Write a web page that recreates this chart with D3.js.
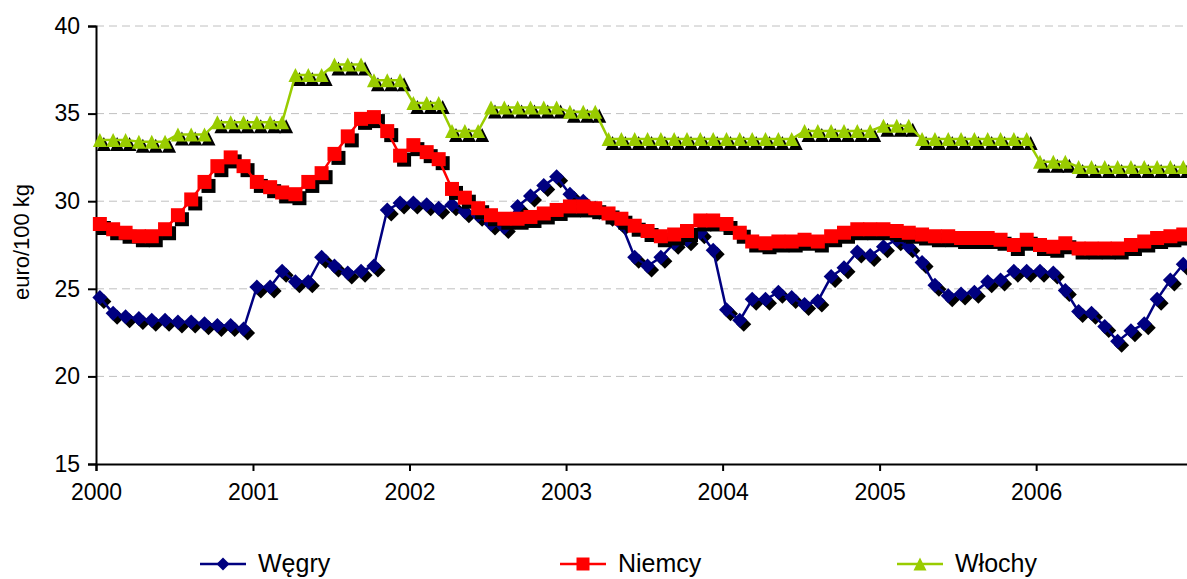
<!DOCTYPE html>
<html><head><meta charset="utf-8">
<script src="https://cdn.jsdelivr.net/npm/d3@7"></script>
<style>body{margin:0;background:#fff}svg{display:block}text{font-family:"Liberation Sans",Arial,sans-serif}</style>
</head><body>
<script>
const years = ["2000","2001","2002","2003","2004","2005","2006"];
const yTicks = [15,20,25,30,35,40];
const seriesNames = ["Węgry","Niemcy","Włochy"];
const wegry = [
 24.5,23.6,23.4,23.3,23.2,23.2,23.1,23.1,23.0,22.9,22.9,22.7,
 25.1,25.1,26.0,25.4,25.4,26.8,26.3,25.9,26.0,26.3,29.5,29.9,
 29.9,29.8,29.6,29.8,29.4,29.2,28.7,28.5,29.7,30.3,30.9,31.4,
 30.4,30.0,29.6,29.2,28.7,26.8,26.3,26.8,27.6,27.8,28.2,27.2,
 23.8,23.2,24.4,24.4,24.8,24.5,24.1,24.3,25.7,26.2,27.1,26.9,
 27.4,27.8,27.4,26.5,25.2,24.6,24.7,24.8,25.4,25.5,26.0,26.0,
 26.0,25.9,24.9,23.7,23.6,22.85,22.0,22.6,23.0,24.4,25.5,26.4];
const niemcy = [
 28.7,28.4,28.2,28.0,28.0,28.4,29.2,30.1,31.1,32.0,32.5,32.0,
 31.1,30.8,30.5,30.4,31.1,31.6,32.7,33.7,34.7,34.8,34.0,32.6,
 33.2,32.8,32.4,30.7,30.2,29.6,29.2,29.0,29.0,29.1,29.3,29.5,
 29.7,29.7,29.6,29.3,29.0,28.6,28.3,28.0,28.1,28.3,28.9,28.9,
 28.7,28.2,27.7,27.6,27.7,27.7,27.8,27.7,28.0,28.2,28.4,28.4,
 28.4,28.3,28.2,28.1,28.0,28.0,27.9,27.9,27.9,27.8,27.5,27.8,
 27.5,27.4,27.6,27.3,27.3,27.3,27.3,27.5,27.7,27.9,28.0,28.1];
const wlochy = [
 33.5,33.5,33.5,33.4,33.4,33.4,33.8,33.8,33.8,34.5,34.5,34.5,
 34.5,34.5,34.5,37.2,37.2,37.2,37.8,37.8,37.8,36.9,36.9,36.9,
 35.6,35.6,35.6,34.0,34.0,34.0,35.35,35.35,35.35,35.35,35.35,35.35,
 35.1,35.1,35.1,33.55,33.55,33.55,33.55,33.55,33.55,33.55,33.55,33.55,
 33.55,33.55,33.55,33.55,33.55,33.55,34.0,34.0,34.0,34.0,34.0,34.0,
 34.3,34.3,34.3,33.55,33.55,33.55,33.55,33.55,33.55,33.55,33.55,33.55,
 32.25,32.25,32.25,31.95,31.95,31.95,31.95,31.95,31.95,31.95,31.95,31.95];

const W = 1187, H = 579;
const svg = d3.select("body").append("svg").attr("width", W).attr("height", H);

const x = d3.scaleTime()
  .domain([new Date(2000,0,1), new Date(2007,0,1)])
  .range([96, 1192.7]);
const y = d3.scaleLinear().domain([15,40]).range([464,26]);

const dates = wegry.map((_, i) => new Date(2000 + Math.floor(i/12), i%12, 10));

// gridlines
svg.append("g").selectAll("line").data(yTicks.filter(t => t > 15)).join("line")
  .attr("x1", x.range()[0]).attr("x2", x.range()[1])
  .attr("y1", d => y(d)).attr("y2", d => y(d))
  .attr("stroke", "#c0c0c0").attr("stroke-width", 1).attr("stroke-dasharray", "8,5");

// axes
const yAxis = svg.append("g").attr("transform", `translate(${x.range()[0]},0)`)
  .call(d3.axisLeft(y).tickValues(yTicks).tickSize(8).tickPadding(8).tickFormat(d3.format("d")));
const xAxis = svg.append("g").attr("transform", `translate(0,${y(15)})`)
  .call(d3.axisBottom(x).tickValues(years.map(s => new Date(+s,0,1))).tickSize(7).tickPadding(13)
    .tickFormat((d, i) => years[i]));
[yAxis, xAxis].forEach(a => {
  a.select(".domain").attr("stroke", "#000").attr("stroke-width", 2);
  a.selectAll(".tick line").attr("stroke", "#000").attr("stroke-width", 2);
  a.selectAll(".tick text").attr("fill", "#000").style("font-size", "23px")
   .style("font-family", '"Liberation Sans", Arial, sans-serif');
});

svg.append("text").attr("transform", "translate(29,242) rotate(-90)")
  .attr("text-anchor", "middle").style("font-size", "22px").text("euro/100 kg");

function markerPath(kind, s) {
  if (kind === "diamond") return `M0,${-s}L${s},0L0,${s}L${-s},0Z`;
  if (kind === "square") return `M${-s},${-s}H${s}V${s}H${-s}Z`;
  return `M0,${-s}L${s},${s}L${-s},${s}Z`;
}
const series = [
  {name: seriesNames[0], data: wegry, color: "#000080", kind: "diamond", s: 7.5},
  {name: seriesNames[1], data: niemcy, color: "#FF0000", kind: "square", s: 7},
  {name: seriesNames[2], data: wlochy, color: "#99CC00", kind: "triangle", s: 7}
];
const line = d3.line().x((d,i) => x(dates[i])).y(d => y(d));
series.forEach(sr => {
  const g = svg.append("g");
  g.selectAll("path.sh").data(sr.data).join("path").attr("class","sh")
    .attr("d", markerPath(sr.kind, sr.s))
    .attr("transform", (d,i) => `translate(${x(dates[i])+4},${y(d)+4})`)
    .attr("fill", "#000");
  g.append("path").datum(sr.data).attr("d", line)
    .attr("fill", "none").attr("stroke", sr.color).attr("stroke-width", 2.5);
  g.selectAll("path.mk").data(sr.data).join("path").attr("class","mk")
    .attr("d", markerPath(sr.kind, sr.s))
    .attr("transform", (d,i) => `translate(${x(dates[i])},${y(d)})`)
    .attr("fill", sr.color);
});

// legend
const legX = [200, 560, 897];
series.forEach((sr, i) => {
  const g = svg.append("g").attr("transform", `translate(${legX[i]},564)`);
  g.append("line").attr("x1", 0).attr("x2", 46).attr("y1", 0).attr("y2", 0)
    .attr("stroke", sr.color).attr("stroke-width", 2.5);
  g.append("path").attr("d", markerPath(sr.kind, 6.5)).attr("transform", "translate(23,0)")
    .attr("fill", sr.color);
  g.append("text").attr("x", 58).attr("y", 8).style("font-size", "25px").text(sr.name);
});
</script>
</body></html>
